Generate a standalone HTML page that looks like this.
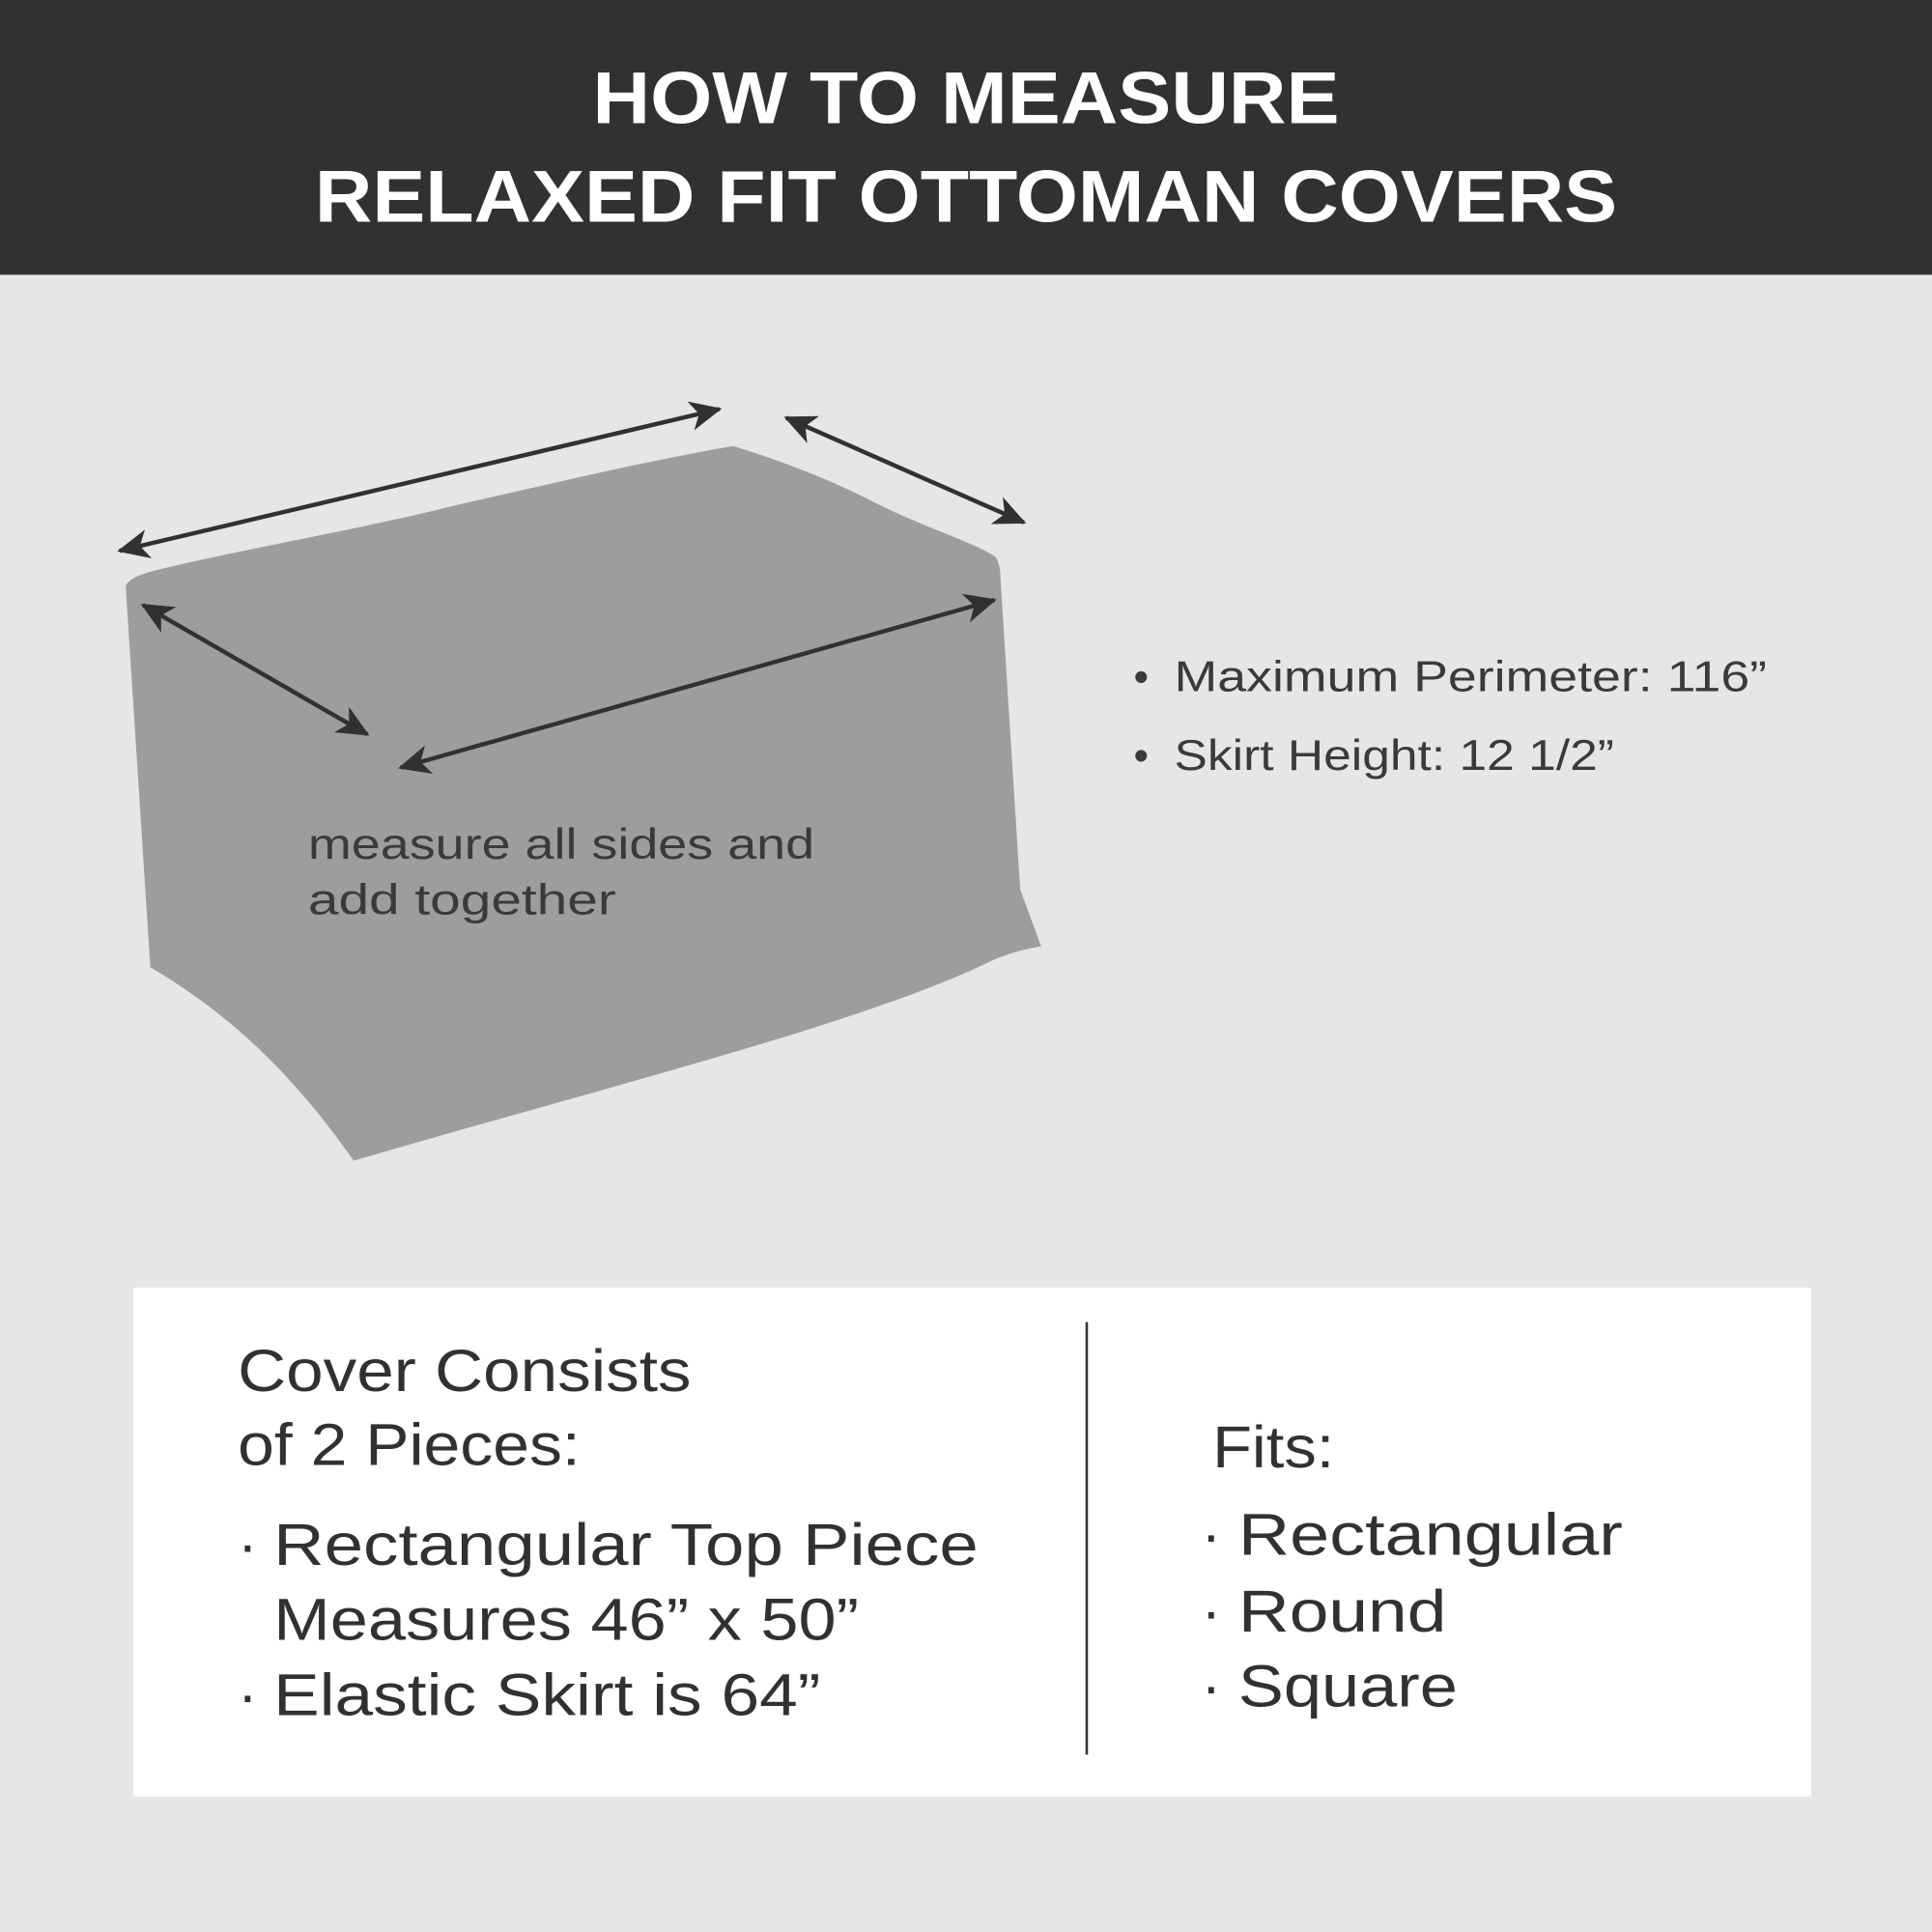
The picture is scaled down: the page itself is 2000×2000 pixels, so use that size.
<!DOCTYPE html>
<html><head><meta charset="utf-8"><style>
html,body{margin:0;padding:0;background:#e6e6e5;}
svg{display:block;}
text{font-family:"Liberation Sans",sans-serif;}
</style></head><body>
<svg width="2000" height="2000" viewBox="0 0 1568 1568" xmlns="http://www.w3.org/2000/svg">
<defs>
<marker id="ah" viewBox="-26 -13 30 26" refX="0" refY="0" markerWidth="30" markerHeight="26" markerUnits="userSpaceOnUse" orient="auto-start-reverse">
<path d="M2,0 L-24,-12 L-17,0 L-24,12 Z" fill="#333031"/>
</marker>
</defs>
<rect width="1568" height="1568" fill="#e6e6e5"/>
<rect width="1568" height="223" fill="#333031"/>
<text x="784" y="100" fill="#fff" font-size="60" font-weight="bold" text-anchor="middle" textLength="606" lengthAdjust="spacingAndGlyphs">HOW TO MEASURE</text>
<text x="784" y="180" fill="#fff" font-size="60" font-weight="bold" text-anchor="middle" textLength="1057" lengthAdjust="spacingAndGlyphs">RELAXED FIT OTTOMAN COVERS</text>

<path d="M102,476 Q104,468 130,462 C200,445 300,428 370,410 C450,392 520,375 595,362 Q660,382 710,408 C750,428 790,440 808,452 Q812,458 812,470 L828,722 L845,768 Q820,772 800,782 C700,830 500,880 287,942 C240,875 190,825 122,785 Z" fill="#9d9d9d"/>

<g stroke="#333031" stroke-width="3.5" fill="none">
<line x1="97" y1="447" x2="584" y2="332" marker-start="url(#ah)" marker-end="url(#ah)"/>
<line x1="638" y1="339" x2="831" y2="424" marker-start="url(#ah)" marker-end="url(#ah)"/>
<line x1="116" y1="491" x2="298" y2="596" marker-start="url(#ah)" marker-end="url(#ah)"/>
<line x1="325" y1="623" x2="807" y2="487" marker-start="url(#ah)" marker-end="url(#ah)"/>
</g>

<g fill="#3a3a3a" font-size="35">
<text x="250" y="697" textLength="411" lengthAdjust="spacingAndGlyphs">measure all sides and</text>
<text x="250" y="742" textLength="250" lengthAdjust="spacingAndGlyphs">add together</text>
<text x="920" y="561">•</text>
<text x="953" y="561" textLength="481" lengthAdjust="spacingAndGlyphs">Maximum Perimeter: 116”</text>
<text x="920" y="625">•</text>
<text x="953" y="625" textLength="357" lengthAdjust="spacingAndGlyphs">Skirt Height: 12 1/2”</text>
</g>

<rect x="108" y="1045" width="1362" height="413" fill="#fff"/>
<line x1="882" y1="1073" x2="882" y2="1424" stroke="#333031" stroke-width="2"/>
<g fill="#333031" font-size="48">
<text x="193" y="1129" textLength="368" lengthAdjust="spacingAndGlyphs">Cover Consists</text>
<text x="193" y="1189" textLength="278" lengthAdjust="spacingAndGlyphs">of 2 Pieces:</text>
<text x="193" y="1270">·</text>
<text x="222" y="1270" textLength="572" lengthAdjust="spacingAndGlyphs">Rectangular Top Piece</text>
<text x="222" y="1331" textLength="475" lengthAdjust="spacingAndGlyphs">Measures 46” x 50”</text>
<text x="193" y="1392">·</text>
<text x="222" y="1392" textLength="444" lengthAdjust="spacingAndGlyphs">Elastic Skirt is 64”</text>
<text x="984" y="1191" textLength="99" lengthAdjust="spacingAndGlyphs">Fits:</text>
<text x="975" y="1262">·</text>
<text x="1005" y="1262" textLength="312" lengthAdjust="spacingAndGlyphs">Rectangular</text>
<text x="975" y="1324">·</text>
<text x="1005" y="1324" textLength="169" lengthAdjust="spacingAndGlyphs">Round</text>
<text x="975" y="1385">·</text>
<text x="1005" y="1385" textLength="178" lengthAdjust="spacingAndGlyphs">Square</text>
</g>
</svg>
</body></html>
